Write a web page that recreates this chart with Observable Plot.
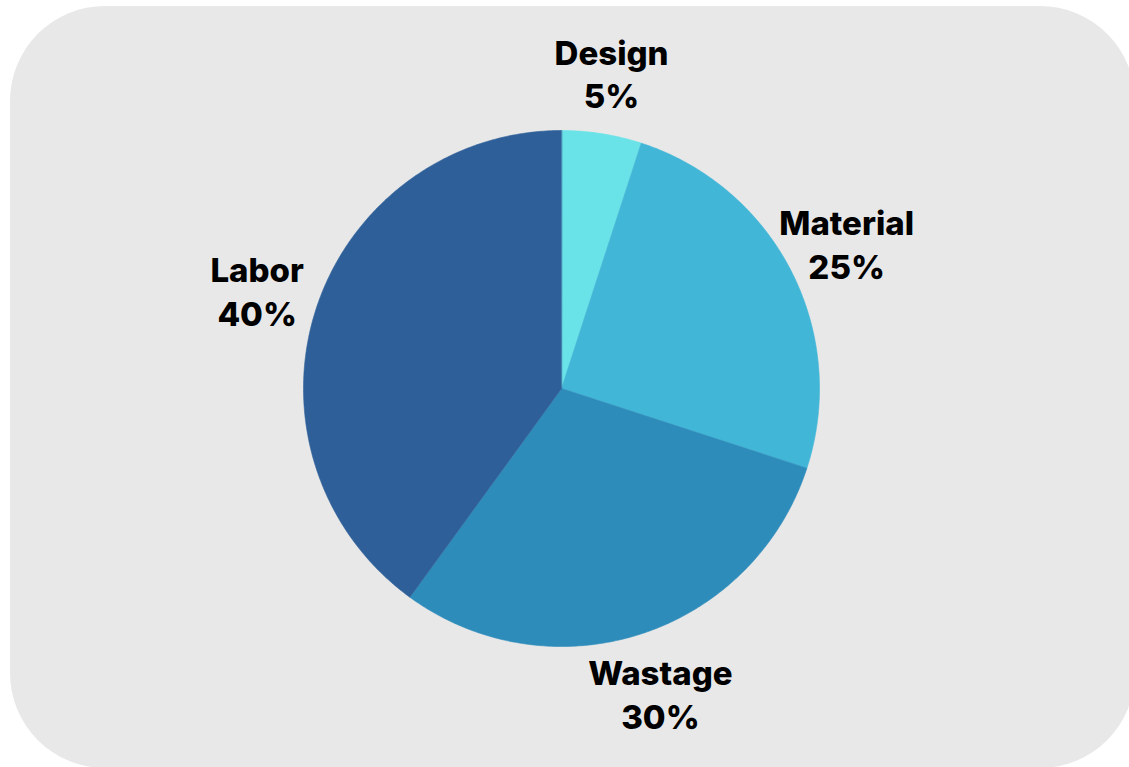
<!DOCTYPE html>
<html>
<head>
<meta charset="utf-8">
<script src="https://cdn.jsdelivr.net/npm/d3@7"></script>
<script src="https://cdn.jsdelivr.net/npm/@observablehq/plot@0.6"></script>
<style>
  html, body { margin: 0; padding: 0; background: #ffffff; overflow: hidden; }
  #card { position: absolute; left: 10px; top: 6px; width: 1125px; height: 762px; border-radius: 95px; background: #e8e8e8; }
  #chart { position: absolute; left: 0; top: 0; }
</style>
</head>
<body>
<div id="card"></div>
<div id="chart"></div>
<script>
const categories = ["Design", "Material", "Wastage", "Labor"];
const values = [5, 25, 30, 40];
const pctLabels = ["5%", "25%", "30%", "40%"];
const colors = ["#6ae3e8", "#42b6d6", "#2e8cbb", "#2e5f98"];

const W = 1129, H = 767;
const cx = 561, cy = 388;   // pie centre in page pixels
const R = 258;              // pie radius
const labelR = 320;         // label radius

const pie = d3.pie().sort(null).value(d => d.value);
const arcs = pie(categories.map((c, i) => ({cat: c, value: values[i], pct: pctLabels[i]})));

// slice outlines as polygons (centre + arc samples)
const pts = [];
for (const a of arcs) {
  pts.push({cat: a.data.cat, x: 0, y: 0});
  const n = Math.max(8, Math.ceil((a.endAngle - a.startAngle) / 0.01));
  for (let k = 0; k <= n; k++) {
    const t = a.startAngle + (a.endAngle - a.startAngle) * k / n;
    pts.push({cat: a.data.cat, x: R * Math.sin(t), y: -R * Math.cos(t)});
  }
}

const labels = arcs.map(a => {
  const m = (a.startAngle + a.endAngle) / 2;
  return {cat: a.data.cat, text: a.data.cat + "\n" + a.data.pct, x: labelR * Math.sin(m), y: -labelR * Math.cos(m)};
});

const chart = Plot.plot({
  width: W,
  height: H,
  margin: 0,
  x: {domain: [-cx, W - cx], range: [0, W], axis: null},
  y: {domain: [-cy, H - cy], range: [0, H], axis: null},
  color: {domain: categories, range: colors},
  style: {background: "transparent", overflow: "visible"},
  marks: [
    Plot.line(pts, {x: "x", y: "y", z: "cat", fill: "cat", stroke: "cat", strokeWidth: 0.6, curve: "linear-closed"}),
    Plot.text(labels, {x: "x", y: "y", text: "text", fontSize: 33, fontWeight: 800, fontFamily: "Inter", lineHeight: 1.33, fill: "#000000", textAnchor: "middle"})
  ]
});
document.getElementById("chart").appendChild(chart);
</script>
</body>
</html>
